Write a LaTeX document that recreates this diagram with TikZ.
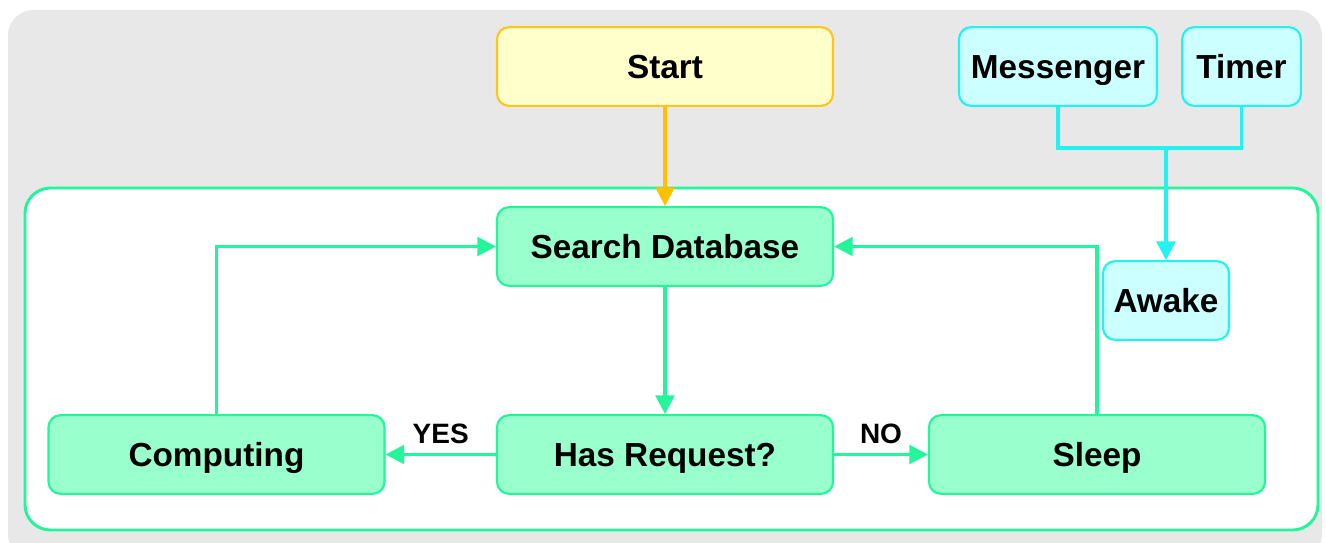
\documentclass[tikz,border=0pt]{standalone}
\usepackage{fontspec}
\setmainfont{Liberation Sans}
\usetikzlibrary{arrows.meta}
\definecolor{bggrey}{HTML}{E8E8E8}
\definecolor{gline}{HTML}{22F59A}
\definecolor{gfill}{HTML}{99FFCC}
\definecolor{cline}{HTML}{22F2F2}
\definecolor{cfill}{HTML}{CCFFFF}
\definecolor{yline}{HTML}{FFC61A}
\definecolor{yfill}{HTML}{FFFFCC}
\definecolor{oline}{HTML}{FFC000}
\tikzset{
  box/.style={rounded corners=9pt, line width=1.6pt, inner sep=0pt, align=center,
    font=\fontsize{25}{28}\selectfont\bfseries, text=black, text height=18.5pt, text depth=0pt},
  gbox/.style={box, draw=gline, fill=gfill, minimum width=252pt, minimum height=59pt},
  cbox/.style={box, draw=cline, fill=cfill, minimum height=59pt},
  ybox/.style={box, draw=yline, fill=yfill, minimum width=252pt, minimum height=59pt},
  conn/.style={line width=2.4pt, -{Triangle[length=14pt,width=14pt]}},
  lbl/.style={font=\fontsize{21}{24}\selectfont\bfseries, inner sep=0pt, text=black}
}
\begin{document}
\begin{tikzpicture}[x=0.75pt,y=-0.75pt]
\useasboundingbox (0,0) rectangle (1326,542);
\fill[bggrey, rounded corners=19pt] (8,10) rectangle (1322,560);
\draw[gline, fill=white, line width=2.2pt, rounded corners=19pt] (25,188) rectangle (1318,530);

\node[ybox] (start) at (665,66.5) {Start};
\node[cbox, minimum width=148.5pt] (msg) at (1058,66.5) {Messenger};
\node[cbox, minimum width=89pt] (tim) at (1241.5,66.5) {Timer};
\node[gbox] (search) at (665,246.5) {Search Database};
\node[cbox, minimum width=94.5pt] (awake) at (1166,300.5) {Awake};
\node[gbox] (comp) at (216.5,454.5) {Computing};
\node[gbox] (req) at (665,454.5) {Has Request?};
\node[gbox] (sleep) at (1097,454.5) {Sleep};
\coordinate (j) at (1166,148);

\draw[conn, oline] (start) -- (search);
\draw[line width=2.4pt, cline] (msg.south) |- (j) -| (tim.south);
\draw[conn, cline] (j) -- (awake.north);
\draw[conn, gline] (search) -- (req);
\draw[conn, gline] (req) -- node[lbl, above=7pt] {YES} (comp);
\draw[conn, gline] (req) -- node[lbl, above=7pt] {NO} (sleep);
\draw[conn, gline] (comp.north) |- (search.west);
\draw[conn, gline] (sleep.north) |- (search.east);
\end{tikzpicture}
\end{document}
